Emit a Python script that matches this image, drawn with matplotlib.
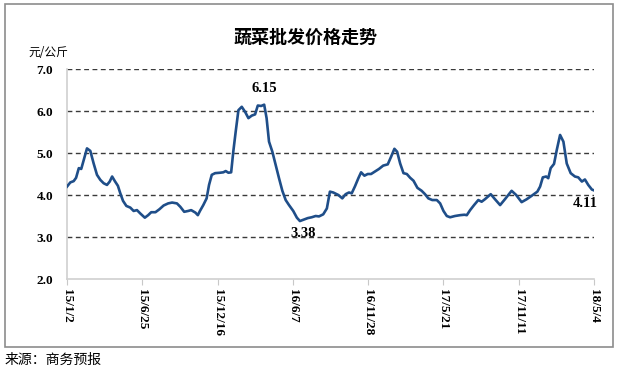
import numpy as np
import pandas as pd
import matplotlib
matplotlib.use('Agg')
import matplotlib.pyplot as plt
from matplotlib.patches import Rectangle

plt.rcParams['font.family'] = ['Noto Sans CJK SC', 'DejaVu Sans']

# weeks since 2015-01-02
week = [0.0, 1.1, 2.2, 3.0, 3.9, 4.7, 5.5, 6.6, 7.7, 8.8, 9.9, 11.0, 12.1, 13.2, 14.1,
        14.9, 15.8, 16.8, 17.6, 18.5, 19.6, 20.9, 22.0, 23.1, 24.2, 25.7, 26.8, 27.8,
        29.2, 30.5, 31.9, 33.4, 34.7, 36.3, 37.4, 38.7, 40.0, 41.0, 42.4, 43.2, 43.9,
        45.0, 46.1, 46.9, 47.8, 48.9, 50.5, 51.6, 52.4, 53.3, 54.2, 54.9, 55.7, 56.6,
        57.7, 58.8, 59.9, 61.0, 62.1, 63.0, 64.1, 65.1, 65.9, 66.7, 67.8, 68.9, 70.0,
        71.1, 72.2, 73.3, 74.7, 75.9, 76.9, 78.0, 79.5, 80.8, 82.1, 83.2, 84.6, 85.8,
        86.8, 87.9, 89.6, 90.9, 92.0, 93.1, 94.0, 95.1, 96.2, 97.1, 98.2, 99.3, 100.4,
        101.7, 103.0, 104.4, 105.9, 107.0, 108.1, 109.0, 110.0, 111.1, 112.2, 113.3,
        114.4, 115.7, 117.1, 118.2, 119.3, 120.6, 122.1, 123.2, 124.3, 125.4, 126.5,
        128.1, 129.8, 131.2, 132.0, 133.1, 134.4, 135.8, 136.9, 138.0, 139.9, 141.3,
        143.0, 144.6, 146.8, 148.3, 150.1, 151.8, 153.4, 155.3, 156.2, 157.1, 158.2,
        158.9, 159.7, 160.8, 161.7, 162.8, 163.9, 165.0, 166.3, 167.7, 168.8, 170.0,
        171.0, 172.1, 173.3, 174.0]
price = [4.20, 4.30, 4.33, 4.41, 4.64, 4.62, 4.83, 5.11, 5.05, 4.75, 4.48, 4.36, 4.28, 4.24, 4.32,
         4.44, 4.33, 4.22, 4.04, 3.86, 3.74, 3.70, 3.62, 3.64, 3.56, 3.46, 3.52, 3.59,
         3.59, 3.66, 3.75, 3.80, 3.82, 3.80, 3.72, 3.60, 3.62, 3.64, 3.58, 3.52, 3.62,
         3.76, 3.92, 4.24, 4.48, 4.52, 4.53, 4.54, 4.57, 4.53, 4.54, 5.03, 5.51, 6.02,
         6.10, 5.98, 5.83, 5.89, 5.92, 6.13, 6.12, 6.15, 5.83, 5.27, 5.03, 4.71, 4.40,
         4.10, 3.88, 3.76, 3.62, 3.46, 3.38, 3.41, 3.45, 3.47, 3.50, 3.49, 3.54, 3.68,
         4.08, 4.06, 4.00, 3.92, 4.02, 4.06, 4.04, 4.21, 4.40, 4.54, 4.46, 4.50, 4.50,
         4.56, 4.62, 4.70, 4.73, 4.91, 5.10, 5.03, 4.75, 4.52, 4.50, 4.41,
         4.34, 4.17, 4.10, 4.02, 3.92, 3.88, 3.88, 3.80, 3.62, 3.50, 3.47,
         3.50, 3.52, 3.53, 3.52, 3.64, 3.76, 3.88, 3.84, 3.90, 4.02, 3.90,
         3.76, 3.90, 4.10, 4.00, 3.83, 3.90, 3.98, 4.08, 4.20, 4.42, 4.44,
         4.40, 4.64, 4.74, 5.07, 5.43, 5.27, 4.75, 4.52, 4.44, 4.42, 4.32,
         4.37, 4.24, 4.13, 4.11]

tick_dates = ['2015-01-02', '2015-06-25', '2015-12-16', '2016-06-07',
              '2016-11-28', '2017-05-21', '2017-11-11', '2018-05-04']
tick_labels = ['15/1/2', '15/6/25', '15/12/16', '16/6/7',
               '16/11/28', '17/5/21', '17/11/11', '18/5/4']
yticks = [2.0, 3.0, 4.0, 5.0, 6.0, 7.0]

start = pd.Timestamp('2015-01-02')
dates = start + pd.to_timedelta(np.array(week) * 7, unit='D')
ticks = pd.to_datetime(tick_dates)

fig = plt.figure(figsize=(6.2, 3.74), dpi=100)
fig.patches.append(Rectangle((5/620, 1-347/374), 608/620, 343/374, transform=fig.transFigure,
                             fill=False, edgecolor='#8c8c8c', lw=1.2))
ax = fig.add_axes([67/620, 1-279/374, 527/620, 210/374])

for y in yticks[1:]:
    ax.axhline(y, color='#3a3a3a', ls=(0, (3.5, 2.5)), lw=1.0, zorder=1)

ax.plot(dates, price, color='#1F4E89', lw=1.9, zorder=3)

ax.set_xlim(ticks[0], ticks[-1])
ax.set_ylim(2.0, 7.0)
ax.set_yticks(yticks)
ax.set_yticklabels(['%.1f' % v for v in yticks], family='Liberation Serif',
                   fontweight='bold', fontsize=9.5)
ax.set_xticks(ticks)
ax.set_xticklabels(tick_labels, rotation=270, family='Liberation Serif',
                   fontweight='bold', fontsize=9.5)
ax.tick_params(axis='y', length=0, pad=10)
ax.tick_params(axis='x', length=4, color='#c8c8c8', pad=3)
for s in ['top', 'right']:
    ax.spines[s].set_visible(False)
for s in ['left', 'bottom']:
    ax.spines[s].set_color('#d0d0d0')
    ax.spines[s].set_linewidth(1.2)

i_max = int(np.argmax(price))
i_min = int(np.argmin(price[40:100])) + 40
ann = dict(family='Liberation Serif', fontweight='bold', fontsize=10.5, textcoords='offset points')
ax.annotate('%.2f' % price[i_max], (dates[i_max], price[i_max]), xytext=(0, 7),
            ha='center', va='bottom', **ann)
ax.annotate('%.2f' % price[i_min], (dates[i_min], price[i_min]), xytext=(2, -4),
            ha='center', va='top', **ann)
ax.annotate('%.2f' % price[-1], (dates[-1], price[-1]), xytext=(3, -5),
            ha='right', va='top', **ann)

fig.text(306/620, 1-37/374, '蔬菜批发价格走势', ha='center', va='center',
         fontsize=13, fontweight='bold')
fig.text(28/620, 1-53/374, '元/公斤', ha='left', va='center', fontsize=8.5)
fig.text(5/620, 1-360/374, '来源：商务预报', ha='left', va='center', fontsize=10)

fig.savefig('out.png', dpi=100, facecolor='white')
